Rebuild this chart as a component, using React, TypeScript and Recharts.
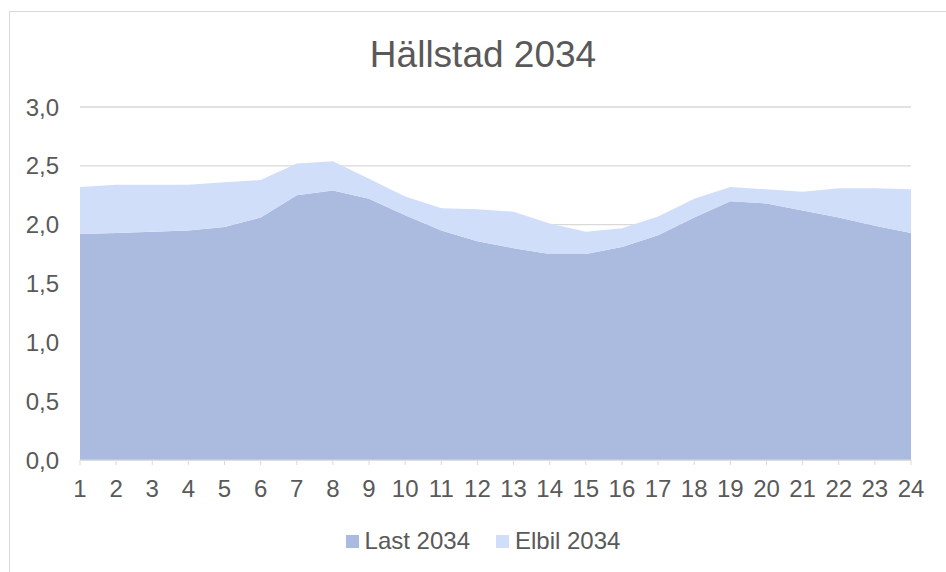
import { Area, AreaChart, CartesianGrid, Legend, XAxis, YAxis } from "recharts";

const hours = [
  "1", "2", "3", "4", "5", "6", "7", "8", "9", "10", "11", "12",
  "13", "14", "15", "16", "17", "18", "19", "20", "21", "22", "23", "24",
];
const last2034 = [
  1.92, 1.93, 1.94, 1.95, 1.98, 2.06, 2.25, 2.29, 2.22, 2.08, 1.95, 1.86,
  1.8, 1.75, 1.75, 1.81, 1.91, 2.06, 2.2, 2.18, 2.12, 2.06, 1.99, 1.93,
];
const elbil2034 = [
  0.4, 0.41, 0.4, 0.39, 0.38, 0.32, 0.27, 0.25, 0.17, 0.16, 0.19, 0.27,
  0.31, 0.26, 0.19, 0.16, 0.16, 0.16, 0.12, 0.12, 0.16, 0.25, 0.32, 0.37,
];
const yTicks = [0, 0.5, 1, 1.5, 2, 2.5, 3];

const series = [
  { key: "last", name: "Last 2034", color: "#aabbdf" },
  { key: "elbil", name: "Elbil 2034", color: "#d1defa" },
];

const data = hours.map((hour, i) => ({
  hour,
  last: last2034[i],
  elbil: elbil2034[i],
}));

const FONT = "'Liberation Sans', Arial, sans-serif";
const TEXT = "#595959";
const GRID = "#d9d9d9";

const fmt = (v: number) => v.toFixed(1).replace(".", ",");

function ChartLegend() {
  return (
    <div
      style={{
        display: "flex",
        justifyContent: "center",
        alignItems: "center",
        height: 26,
        fontFamily: FONT,
        fontSize: 24,
        color: TEXT,
        gap: 26,
        paddingLeft: 20,
      }}
    >
      {series.map((s) => (
        <span key={s.key} style={{ display: "flex", alignItems: "center", gap: 6 }}>
          <span style={{ width: 13, height: 13, background: s.color, display: "inline-block" }} />
          {s.name}
        </span>
      ))}
    </div>
  );
}

export default function App() {
  return (
    <div
      style={{
        position: "fixed",
        left: 0,
        top: 0,
        width: 946,
        height: 572,
        overflow: "hidden",
        background: "#fff",
      }}
    >
      <div
        style={{
          position: "absolute",
          left: 9,
          top: 11,
          width: 1000,
          height: 1000,
          border: `1px solid ${GRID}`,
        }}
      />
      <div
        style={{
          position: "absolute",
          left: 10,
          top: 36,
          width: 946,
          textAlign: "center",
          fontFamily: FONT,
          fontSize: 37,
          lineHeight: "37px",
          color: TEXT,
        }}
      >
        Hällstad 2034
      </div>
      <div style={{ position: "absolute", left: 0, top: 0 }}>
        <AreaChart
          width={946}
          height={572}
          data={data}
          margin={{ top: 107, right: 35, bottom: 72, left: 0 }}
        >
          <CartesianGrid horizontal vertical={false} stroke={GRID} strokeWidth={1.3} />
          <XAxis
            dataKey="hour"
            height={40}
            stroke={GRID}
            tickSize={5}
            tickMargin={15}
            tick={{ fontSize: 24, fill: TEXT, fontFamily: FONT }}
            interval={0}
          />
          <YAxis
            width={80}
            domain={[0, 3]}
            ticks={yTicks}
            tickFormatter={fmt}
            axisLine={false}
            tickLine={false}
            tickSize={0}
            tickMargin={21}
            tick={{ fontSize: 24, fill: TEXT, fontFamily: FONT }}
          />
          {series.map((s) => (
            <Area
              key={s.key}
              type="linear"
              dataKey={s.key}
              name={s.name}
              stackId="1"
              stroke="none"
              fill={s.color}
              fillOpacity={1}
              isAnimationActive={false}
            />
          ))}
          <Legend
            verticalAlign="middle"
            align="center"
            content={<ChartLegend />}
            wrapperStyle={{ top: 528, left: 0, width: 946 }}
          />
        </AreaChart>
      </div>
    </div>
  );
}
